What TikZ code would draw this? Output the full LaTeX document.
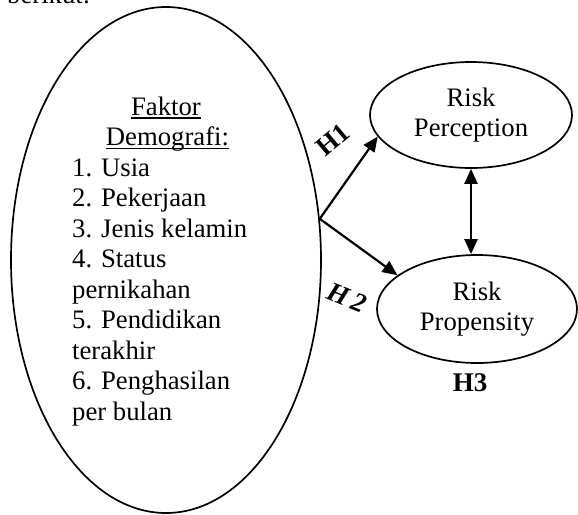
\documentclass[tikz,border=0pt]{standalone}
\usepackage{fontspec}
\setmainfont{Liberation Serif}
\usetikzlibrary{arrows.meta,shapes.geometric}
\newcommand\myul[1]{\setbox0\hbox{#1}\rlap{\rule[-3.6pt]{\wd0}{1.3pt}}\box0}
\begin{document}
\begin{tikzpicture}[x=1pt,y=-1pt,
  txt/.style={font=\fontsize{26.7}{30.5}\selectfont, inner sep=0pt},
  oval/.style={draw, ellipse, line width=1.7pt, inner sep=0pt},
  conn/.style={line width=2.2pt, -{Triangle[length=15pt,width=13pt]}},
  hyp/.style={font=\fontsize{27}{30}\selectfont\bfseries, inner sep=0pt}]
\useasboundingbox (0,0) rectangle (578,514);
\clip (0,0) rectangle (578,514);
% partial text at top
\node[txt, anchor=base west] (ber) at (7,4) {berikut:};
% big ellipse
\node[oval, minimum width=310pt, minimum height=506pt] (big) at (166,260) {};
\node[txt, anchor=base] (hd1) at (166,115) {\myul{Faktor}};
\node[txt, anchor=base] (hd2) at (167.5,145.5) {\myul{Demografi:}};
\foreach \t [count=\i] in {1. Usia, 2. Pekerjaan, 3. Jenis kelamin, 4. Status, pernikahan, 5. Pendidikan, terakhir, 6. Penghasilan, per bulan}
  \node[txt, anchor=base west] (item\i) at (72,{176+30.5*(\i-1)}) {\t};
% right ellipses
\node[oval, txt, align=center, minimum width=202pt, minimum height=106pt] (perc) at (471,115) {Risk\\Perception};
\node[oval, txt, align=center, minimum width=200pt, minimum height=108pt] (prop) at (477,309) {Risk\\Propensity};
% connectors
\coordinate (src) at (big.15);
\draw[conn] (src) -- (perc.193);
\draw[conn] (src) -- (prop.157);
\draw[line width=2.2pt, {Triangle[length=15pt,width=13pt]}-{Triangle[length=15pt,width=13pt]}] (perc.south) -- (perc.south |- prop.north);
% hypothesis labels
\node[hyp, rotate=40] (h1) at (333,140) {H1};
\node[hyp, font=\fontsize{27}{30}\selectfont\bfseries\itshape, rotate=-22] (h2) at (347,298) {H\,2};
\node[hyp, anchor=base] (h3) at (470,391) {H3};
\end{tikzpicture}
\end{document}
